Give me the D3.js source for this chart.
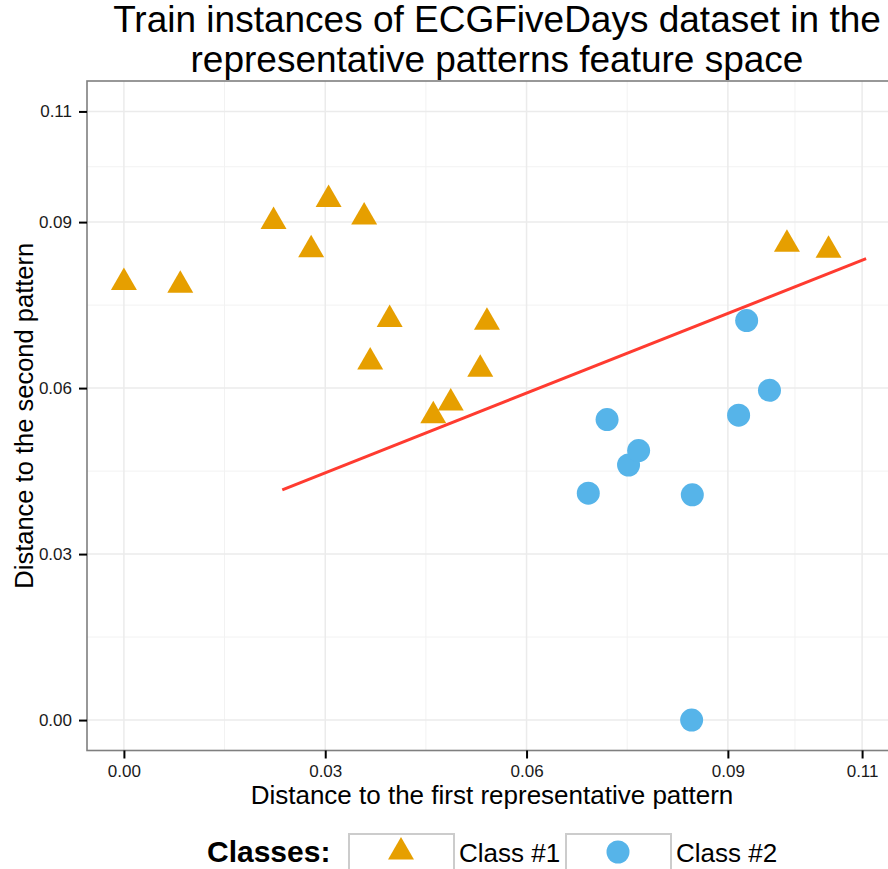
<!DOCTYPE html>
<html>
<head>
<meta charset="utf-8">
<script src="https://cdn.jsdelivr.net/npm/d3@7"></script>
<style>
  body { margin: 0; background: #fff; }
  svg { display: block; font-family: "Liberation Sans", Arial, sans-serif; }
</style>
</head>
<body>
<svg id="chart"></svg>
<script>
// class #1 (triangles) and class #2 (circles)
const class1X = [0.0000, 0.0084, 0.0223, 0.0279, 0.0305, 0.0358, 0.0396, 0.0367, 0.0461, 0.0487, 0.0531, 0.0541, 0.0988, 0.1050];
const class1Y = [0.0791, 0.0786, 0.0901, 0.0850, 0.0941, 0.0909, 0.0724, 0.0647, 0.0550, 0.0573, 0.0634, 0.0719, 0.0860, 0.0849];
const class2X = [0.0692, 0.0720, 0.0752, 0.0767, 0.0847, 0.0846, 0.0916, 0.0928, 0.0962];
const class2Y = [0.0410, 0.0543, 0.0461, 0.0487, 0.0407, 0.0000, 0.0551, 0.0722, 0.0596];
// separating line
const fitX = [0.0236, 0.1106];
const fitY = [0.0416, 0.0834];

const majorTicks = [0, 0.03, 0.06, 0.09, 0.11];
const minorTicks = [0.015, 0.045, 0.075, 0.10];
const classNames = ["Class #1", "Class #2"];
const classColors = ["#E69F00", "#56B4E9"];

const svgWidth = 888, svgHeight = 869;
const margin = { top: 81, left: 87 };
const width = 812, height = 669.5;

const svg = d3.select("#chart")
    .attr("width", svgWidth)
    .attr("height", svgHeight);

const x = d3.scaleLinear().domain([-0.0055, 0.1155]).range([margin.left, margin.left + width]);
const y = d3.scaleLinear().domain([-0.0055, 0.1155]).range([margin.top + height, margin.top]);

svg.append("clipPath").attr("id", "panel-clip")
    .append("rect")
    .attr("x", margin.left).attr("y", margin.top)
    .attr("width", width).attr("height", height);

const panel = svg.append("g").attr("clip-path", "url(#panel-clip)");

// grid
panel.selectAll(".vminor").data(minorTicks).join("line")
    .attr("x1", d => x(d)).attr("x2", d => x(d))
    .attr("y1", margin.top).attr("y2", margin.top + height)
    .attr("stroke", "#f2f2f2").attr("stroke-width", 1);
panel.selectAll(".hminor").data(minorTicks).join("line")
    .attr("y1", d => y(d)).attr("y2", d => y(d))
    .attr("x1", margin.left).attr("x2", margin.left + width)
    .attr("stroke", "#f2f2f2").attr("stroke-width", 1);
panel.selectAll(".vmajor").data(majorTicks).join("line")
    .attr("x1", d => x(d)).attr("x2", d => x(d))
    .attr("y1", margin.top).attr("y2", margin.top + height)
    .attr("stroke", "#ebebeb").attr("stroke-width", 1.5);
panel.selectAll(".hmajor").data(majorTicks).join("line")
    .attr("y1", d => y(d)).attr("y2", d => y(d))
    .attr("x1", margin.left).attr("x2", margin.left + width)
    .attr("stroke", "#ebebeb").attr("stroke-width", 1.5);

// fitted line
const line = d3.line().x(d => x(d[0])).y(d => y(d[1]));
panel.append("path")
    .datum(d3.zip(fitX, fitY))
    .attr("fill", "none")
    .attr("stroke", "#ff3b30")
    .attr("stroke-width", 3)
    .attr("d", line);

// points
const tri = d3.symbol().type(d3.symbolTriangle).size(292);
panel.selectAll(".c1").data(d3.zip(class1X, class1Y)).join("path")
    .attr("transform", d => "translate(" + x(d[0]) + "," + y(d[1]) + ")")
    .attr("d", tri)
    .attr("fill", classColors[0]);

panel.selectAll(".c2").data(d3.zip(class2X, class2Y)).join("circle")
    .attr("cx", d => x(d[0])).attr("cy", d => y(d[1]))
    .attr("r", 11.5)
    .attr("fill", classColors[1]);

// panel border
svg.append("rect")
    .attr("x", margin.left).attr("y", margin.top)
    .attr("width", width).attr("height", height)
    .attr("fill", "none")
    .attr("stroke", "#7f7f7f")
    .attr("stroke-width", 1.6);

// axes
const fmt = d3.format(".2f");
const xAxis = svg.append("g")
    .attr("transform", "translate(0," + (margin.top + height) + ")")
    .call(d3.axisBottom(x).tickValues(majorTicks).tickFormat(fmt).tickSize(8).tickPadding(6));
const yAxis = svg.append("g")
    .attr("transform", "translate(" + margin.left + ",0)")
    .call(d3.axisLeft(y).tickValues(majorTicks).tickFormat(fmt).tickSize(8).tickPadding(7));
[xAxis, yAxis].forEach(a => {
    a.select(".domain").remove();
    a.selectAll(".tick line").attr("stroke", "#000").attr("stroke-width", 2);
    a.selectAll(".tick text")
        .attr("fill", "#1a1a1a")
        .style("font-size", "17px")
        .style("font-family", "'Liberation Sans', Arial, sans-serif");
});

// axis titles
svg.append("text")
    .attr("x", margin.left + width / 2 - 1).attr("y", 804)
    .attr("text-anchor", "middle")
    .style("font-size", "26px")
    .text("Distance to the first representative pattern");

svg.append("text")
    .attr("transform", "translate(33," + (margin.top + height / 2) + ") rotate(-90)")
    .attr("text-anchor", "middle")
    .style("font-size", "25.5px")
    .text("Distance to the second pattern");

// title
const title = svg.append("text")
    .attr("text-anchor", "middle")
    .style("font-size", "37px");
title.append("tspan").attr("x", 497).attr("y", 32).text("Train instances of ECGFiveDays dataset in the");
title.append("tspan").attr("x", 497).attr("y", 72).text("representative patterns feature space");

// legend
svg.append("text")
    .attr("x", 207).attr("y", 862)
    .style("font-size", "30px")
    .style("font-weight", "bold")
    .text("Classes:");

const keyX = [349, 566];
const legend = svg.selectAll(".key").data(classNames).join("g")
    .attr("transform", (d, i) => "translate(" + keyX[i] + ",834)");
legend.append("rect")
    .attr("width", 105).attr("height", 40)
    .attr("fill", "#fff")
    .attr("stroke", "#cccccc")
    .attr("stroke-width", 2);
legend.append("path")
    .attr("transform", "translate(52,18)")
    .attr("d", (d, i) => i === 0 ? tri() : d3.symbol().type(d3.symbolCircle).size(Math.PI * 11.5 * 11.5)())
    .attr("fill", (d, i) => classColors[i]);
legend.append("text")
    .attr("x", 110).attr("y", 28)
    .style("font-size", "26px")
    .text(d => d);
</script>
</body>
</html>
